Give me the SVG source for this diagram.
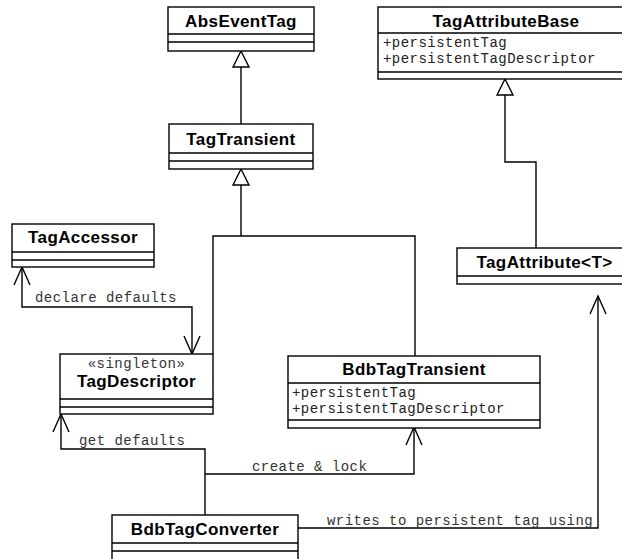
<svg xmlns="http://www.w3.org/2000/svg" width="622" height="559" viewBox="0 0 622 559">
<style>
.box{fill:#fff;stroke:#000;stroke-width:1.4}
.div{stroke:#000;stroke-width:1.4}
.name{font-family:"Liberation Sans",Arial,sans-serif;font-weight:bold;font-size:17px;letter-spacing:0.4px;text-anchor:middle;fill:#000}
.attr{font-family:"Liberation Mono","Courier New",monospace;font-size:14px;letter-spacing:0.47px;fill:#222}
.ster{font-family:"Liberation Mono","Courier New",monospace;font-size:14px;letter-spacing:0.47px;fill:#333;text-anchor:middle}
.lbl{font-family:"Liberation Mono","Courier New",monospace;font-size:14px;letter-spacing:0.47px;fill:#333}
.ln{fill:none;stroke:#000;stroke-width:1.4}
.tri{fill:#fff;stroke:#000;stroke-width:1.4}
</style>
<rect width="622" height="559" fill="#fff"/>
<g id="connectors">
  <path class="ln" d="M241 124 V67"/>
  <polygon class="tri" points="241,51 233,67 249,67"/>
  <path class="ln" d="M241 185 V236 M213 354 V236 H415 V356"/>
  <polygon class="tri" points="241,169 233,185 249,185"/>
  <path class="ln" d="M505 95 V162 H536 V248"/>
  <polygon class="tri" points="505,79 497,95 513,95"/>
  <path class="ln" d="M22 267 V307 H192 V354"/>
  <path class="ln" d="M14 285 L22 267 L30 285 M184 336 L192 354 L200 336"/>
  <text class="lbl" x="35" y="302">declare defaults</text>
  <path class="ln" d="M61 414 V449 H205 V515"/>
  <path class="ln" d="M53 432 L61 414 L69 432"/>
  <text class="lbl" x="79" y="445">get defaults</text>
  <path class="ln" d="M205 474 H414 V427"/>
  <path class="ln" d="M406 445 L414 427 L422 445"/>
  <text class="lbl" x="252" y="471">create &amp; lock</text>
  <path class="ln" d="M298 528 H598 V296"/>
  <path class="ln" d="M590 314 L598 296 L606 314"/>
  <text class="lbl" x="327" y="525">writes to persistent tag using</text>
</g>
<g id="AbsEventTag">
  <rect class="box" x="168" y="7" width="146" height="44"/>
  <path class="div" d="M168 34 H314 M168 42 H314"/>
  <text class="name" x="241" y="27">AbsEventTag</text>
</g>
<g id="TagTransient">
  <rect class="box" x="169" y="124" width="144" height="45"/>
  <path class="div" d="M169 153 H313 M169 161 H313"/>
  <text class="name" x="241" y="145">TagTransient</text>
</g>
<g id="TagAttributeBase">
  <rect class="box" x="378" y="7" width="256" height="72"/>
  <path class="div" d="M378 33 H634 M378 72 H634"/>
  <text class="name" x="506" y="27">TagAttributeBase</text>
  <text class="attr" x="383" y="47">+persistentTag</text>
  <text class="attr" x="383" y="63">+persistentTagDescriptor</text>
</g>
<g id="TagAccessor">
  <rect class="box" x="12" y="224" width="142" height="43"/>
  <path class="div" d="M12 252 H154 M12 260 H154"/>
  <text class="name" x="83" y="243">TagAccessor</text>
</g>
<g id="TagAttribute">
  <rect class="box" x="457" y="248" width="175" height="36"/>
  <path class="div" d="M457 276 H632"/>
  <text class="name" x="544.5" y="268">TagAttribute&lt;T&gt;</text>
</g>
<g id="TagDescriptor">
  <rect class="box" x="60" y="354" width="153" height="60"/>
  <path class="div" d="M60 399 H213 M60 407 H213"/>
  <text class="ster" x="136.5" y="368">«singleton»</text>
  <text class="name" x="136.5" y="387">TagDescriptor</text>
</g>
<g id="BdbTagTransient">
  <rect class="box" x="288" y="356" width="252" height="72"/>
  <path class="div" d="M288 383 H540 M288 420 H540"/>
  <text class="name" x="414" y="375">BdbTagTransient</text>
  <text class="attr" x="292" y="397">+persistentTag</text>
  <text class="attr" x="292" y="413">+persistentTagDescriptor</text>
</g>
<g id="BdbTagConverter">
  <rect class="box" x="112" y="515" width="186" height="52"/>
  <path class="div" d="M112 543 H298 M112 551 H298"/>
  <text class="name" x="205" y="535">BdbTagConverter</text>
</g>
</svg>
